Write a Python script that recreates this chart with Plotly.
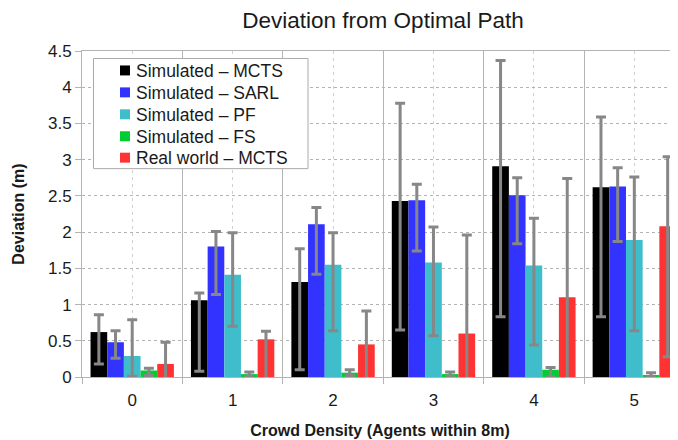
import plotly.graph_objects as go

# Data ------------------------------------------------------------------------
density = [0, 1, 2, 3, 4, 5]
tick_labels = ["0", "1", "2", "3", "4", "5"]

series_names = [
    "Simulated – MCTS",
    "Simulated – SARL",
    "Simulated – PF",
    "Simulated – FS",
    "Real world – MCTS",
]

mcts_mean = [0.62, 1.06, 1.31, 2.43, 2.91, 2.62]
mcts_hi = [0.86, 1.16, 1.77, 3.78, 4.37, 3.59]
mcts_lo = [0.18, 0.08, 0.10, 0.65, 0.83, 0.83]

sarl_mean = [0.48, 1.80, 2.11, 2.44, 2.51, 2.63]
sarl_hi = [0.64, 2.01, 2.34, 2.66, 2.75, 2.89]
sarl_lo = [0.26, 1.14, 1.42, 1.74, 1.84, 1.87]

pf_mean = [0.29, 1.41, 1.55, 1.58, 1.54, 1.89]
pf_hi = [0.79, 1.99, 1.99, 2.07, 2.19, 2.76]
pf_lo = [0.01, 0.70, 0.64, 0.57, 0.44, 0.64]

fs_mean = [0.09, 0.04, 0.06, 0.04, 0.10, 0.02]
fs_hi = [0.12, 0.07, 0.10, 0.07, 0.13, 0.06]
fs_lo = [0.02, 0.01, 0.02, 0.01, 0.00, 0.00]

real_mean = [0.18, 0.52, 0.45, 0.60, 1.10, 2.08]
real_hi = [0.48, 0.63, 0.91, 1.96, 2.74, 3.04]
real_lo = [-0.10, -0.10, -0.10, -0.10, -0.10, 0.28]

# Style -----------------------------------------------------------------------
FONT = "Liberation Sans, Arial, sans-serif"
COLORS = ["#000000", "#3333ff", "#3fbdcb", "#00cc33", "#ff3333"]
ERR_COLOR = "#878787"
GRID = "#b3b3b3"
TEXT = "#1a1a1a"

# The page body has an 8px margin, so the figure is drawn 8px in from the
# window corner. Layout below is in figure pixels.
W, H = 670, 432
PL, PR, PT, PB = 74, 670, 42.5, 369.5
OFF = 8  # window px -> figure px


def px_x(x):
    return (x - OFF - PL) / (PR - PL)


def px_y(y):
    return (PB - (y - OFF)) / (PB - PT)


fig = go.Figure()

groups = [
    (mcts_mean, mcts_hi, mcts_lo),
    (sarl_mean, sarl_hi, sarl_lo),
    (pf_mean, pf_hi, pf_lo),
    (fs_mean, fs_hi, fs_lo),
    (real_mean, real_hi, real_lo),
]

for name, color, (mean, hi, lo) in zip(series_names, COLORS, groups):
    fig.add_trace(
        go.Bar(
            x=density,
            y=mean,
            name=name,
            showlegend=False,
            marker=dict(color=color, line=dict(width=0)),
            error_y=dict(
                type="data",
                symmetric=False,
                array=[h - m for h, m in zip(hi, mean)],
                arrayminus=[m - l for m, l in zip(mean, lo)],
                color=ERR_COLOR,
                thickness=3,
                width=5,
            ),
        )
    )

# Hand-drawn legend box (tighter row spacing than plotly's own legend).
shapes = [
    dict(
        type="rect", xref="paper", yref="paper",
        x0=px_x(93.5), x1=px_x(308), y0=px_y(168.5), y1=px_y(58),
        line=dict(color="#aaaaaa", width=1), fillcolor="white", layer="above",
    )
]
annotations = []
row_y = [70, 92, 114, 136, 157.5]
for name, color, ry in zip(series_names, COLORS, row_y):
    shapes.append(
        dict(
            type="rect", xref="paper", yref="paper",
            x0=px_x(120), x1=px_x(130), y0=px_y(ry + 5), y1=px_y(ry - 5),
            line=dict(width=0), fillcolor=color, layer="above",
        )
    )
    annotations.append(
        dict(
            text=name, xref="paper", yref="paper",
            x=px_x(134), y=px_y(ry + 0.5), xanchor="left", yanchor="middle",
            showarrow=False, font=dict(family=FONT, size=17.5, color=TEXT),
        )
    )

fig.update_xaxes(
    automargin=False,
    range=[-0.5, 5.435],
    tickvals=density,
    ticktext=tick_labels,
    ticks="",
    ticklabelstandoff=8,
    showgrid=True,
    gridcolor="#d0d0d0",
    griddash="3px,4px",
    gridwidth=1,
    minor=dict(
        tickvals=[-0.5, 0.5, 1.5, 2.5, 3.5, 4.5],
        showgrid=True,
        gridcolor=GRID,
        griddash="solid",
        gridwidth=1,
        ticks="outside",
        ticklen=6,
        tickcolor=GRID,
        tickwidth=1,
    ),
    showline=True,
    mirror=True,
    linecolor=GRID,
    linewidth=1,
    zeroline=False,
    tickfont=dict(family=FONT, size=17, color=TEXT),
    title=dict(
        text="<b>Crowd Density (Agents within 8m)</b>",
        font=dict(family=FONT, size=16, color=TEXT),
        standoff=15,
    ),
)

fig.update_yaxes(
    automargin=False,
    range=[0, 4.5],
    tickvals=[0, 0.5, 1, 1.5, 2, 2.5, 3, 3.5, 4, 4.5],
    ticktext=["0", "0.5", "1", "1.5", "2", "2.5", "3", "3.5", "4", "4.5"],
    ticks="outside",
    ticklen=6,
    tickcolor=GRID,
    showgrid=True,
    gridcolor=GRID,
    griddash="3px,3px",
    gridwidth=1,
    showline=True,
    linecolor=GRID,
    linewidth=1,
    zeroline=False,
    tickfont=dict(family=FONT, size=17, color=TEXT),
    title=dict(
        text="<b>Deviation (m)</b>",
        font=dict(family=FONT, size=16, color=TEXT),
        standoff=19,
    ),
)

fig.update_layout(
    width=W,
    height=H,
    barmode="group",
    bargap=0.17,
    bargroupgap=0,
    showlegend=False,
    shapes=shapes,
    annotations=annotations,
    title=dict(
        text="Deviation from Optimal Path",
        font=dict(family=FONT, size=22.5, color=TEXT),
        x=px_x(383),
        xref="paper",
        xanchor="center",
        y=1 - 12 / H,
        yanchor="middle",
    ),
    font=dict(family=FONT),
    plot_bgcolor="white",
    paper_bgcolor="white",
    margin=dict(l=PL, r=W - PR, t=PT, b=H - PB, autoexpand=False),
)

fig.write_html("out.html")
